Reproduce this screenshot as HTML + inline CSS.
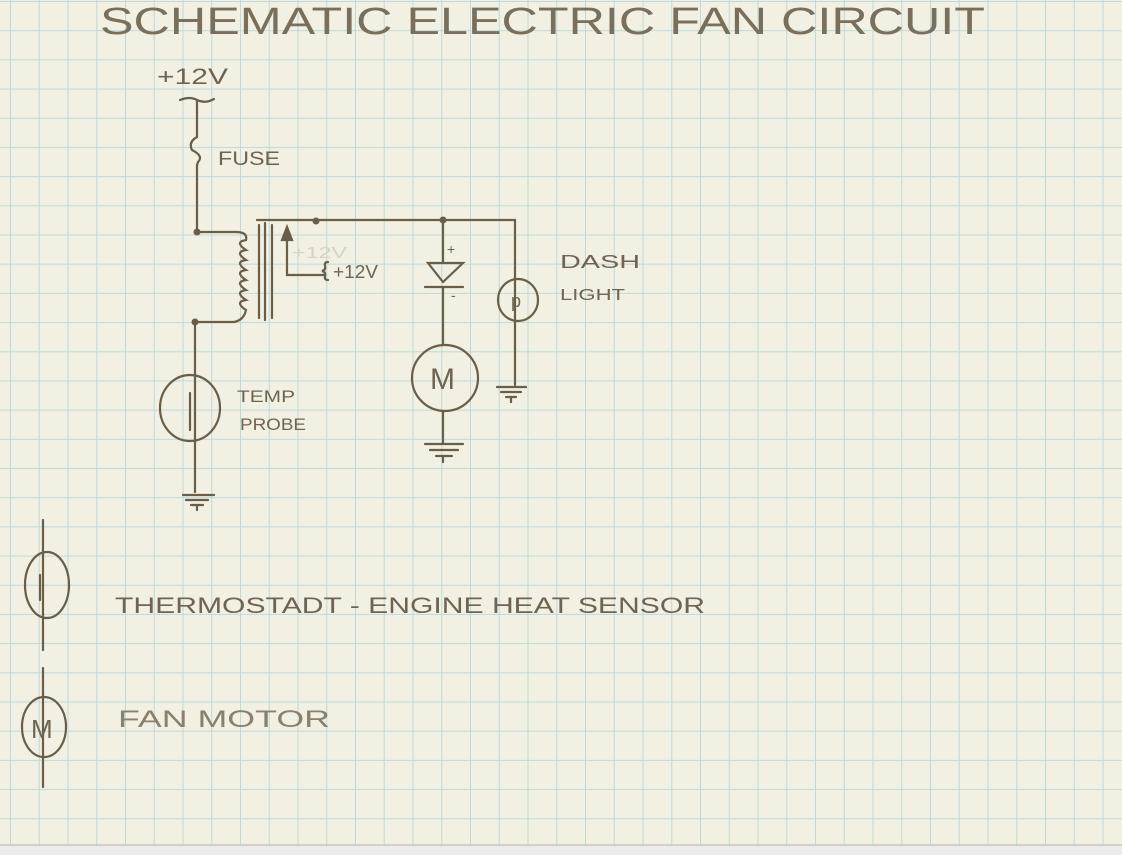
<!DOCTYPE html>
<html><head><meta charset="utf-8"><style>
html,body{margin:0;padding:0;background:#ececec;}
#paper{position:absolute;left:0;top:0;width:1122px;height:845px;background-color:#f2f0e3;
background-image:linear-gradient(to right,#bcdadb 0,#bcdadb 1.2px,transparent 1.2px),linear-gradient(to bottom,#bcdadb 0,#bcdadb 1.2px,transparent 1.2px);
background-size:28.75px 29.2px;background-position:10px 1px;}
svg{position:absolute;left:0;top:0;display:block;}
text{font-family:"Liberation Sans",sans-serif;fill:#6f6450;}
</style></head><body>
<div id="paper"></div>
<svg width="1122" height="855" viewBox="0 0 1122 855" xmlns="http://www.w3.org/2000/svg">
<line x1="0" y1="845" x2="1122" y2="845" stroke="#b9b39e" stroke-width="1"/>
<text x="100" y="34" font-size="38" textLength="885" lengthAdjust="spacingAndGlyphs" style="fill:#7a6f5a">SCHEMATIC  ELECTRIC  FAN  CIRCUIT</text>
<g stroke="#6b5e47" stroke-width="2.2" fill="none" stroke-linecap="round">
<path d="M180 100 Q190 96 197 100 Q205 104 214 99"/>
<path d="M197 100V137"/>
<path d="M197 137 Q188 142 192 150 Q204 156 198 162 L197 165"/>
<path d="M197 165V232"/>
<path d="M197 232H236"/>
<path d="M236 232 q12 0 10 8 q-12 2 0 10 q-12 2 0 10 q-12 2 0 10 q-12 2 0 10 q-12 2 0 10 q-12 2 0 10 q-12 2 0 10 q-2 10 -12 12"/>
<path d="M195 322H234"/>
<path d="M259 225V318M265 223V320M272 225V318"/>
<path d="M257 220H515V385"/>
<path d="M287 236V275H325"/>
<path d="M282 240L287 227L292 240Z" fill="#6b5e47"/>
<path d="M328 262 q-4 0 -3 4 q1 4 -3 5 q4 1 3 5 q-1 4 3 4"/>
<path d="M443 220V262"/>
<path d="M428 263H463L443 282Z"/>
<path d="M425 287H463"/>
<path d="M443 287V345"/>
<ellipse cx="445" cy="378" rx="33" ry="33"/>
<path d="M443 411V443"/>
<path d="M425 444H463M430 450H458M436 456H452M443 456V462"/>
<ellipse cx="518" cy="300" rx="20" ry="21"/>
<path d="M497 387H526M501 392H521M506 397H516M511 397V402"/>
<path d="M195 322V375"/>
<ellipse cx="190" cy="408" rx="30" ry="33"/>
<path d="M195 375V492M190 393V430"/>
<path d="M183 495H214M186 500H208M191 505H203M197 505V510"/>
<path d="M43 520V650"/>
<ellipse cx="47" cy="585" rx="22" ry="33"/>
<path d="M40 575V600"/>
<path d="M43 668V787"/>
<ellipse cx="44" cy="727" rx="22" ry="30"/>
</g>
<g fill="#6b5e47">
<circle cx="197" cy="232" r="3.5"/><circle cx="195" cy="322" r="3.5"/>
<circle cx="316" cy="221" r="3.5"/><circle cx="443" cy="220" r="3.5"/>
</g>
<text x="157" y="84" font-size="22" textLength="71" lengthAdjust="spacingAndGlyphs">+12V</text>
<text x="218" y="165" font-size="19" textLength="62" lengthAdjust="spacingAndGlyphs">FUSE</text>
<text x="292" y="258" font-size="16" textLength="55" lengthAdjust="spacingAndGlyphs" style="fill:#d8d2c2">+12V</text>
<text x="333" y="278" font-size="18" textLength="45" lengthAdjust="spacingAndGlyphs">+12V</text>
<text x="447" y="254" font-size="14">+</text>
<text x="451" y="300" font-size="14">-</text>
<text x="430" y="389" font-size="30">M</text>
<text x="511" y="307" font-size="18">p</text>
<text x="560" y="268" font-size="18" textLength="80" lengthAdjust="spacingAndGlyphs">DASH</text>
<text x="560" y="300" font-size="16" textLength="65" lengthAdjust="spacingAndGlyphs">LIGHT</text>
<text x="237" y="402" font-size="17" textLength="58" lengthAdjust="spacingAndGlyphs">TEMP</text>
<text x="240" y="430" font-size="17" textLength="66" lengthAdjust="spacingAndGlyphs">PROBE</text>
<text x="115" y="613" font-size="22" textLength="590" lengthAdjust="spacingAndGlyphs">THERMOSTADT - ENGINE HEAT SENSOR</text>
<text x="31" y="738" font-size="26">M</text>
<text x="118" y="727" font-size="24" textLength="212" lengthAdjust="spacingAndGlyphs" style="fill:#8a806c">FAN  MOTOR</text>
</svg>
</body></html>
